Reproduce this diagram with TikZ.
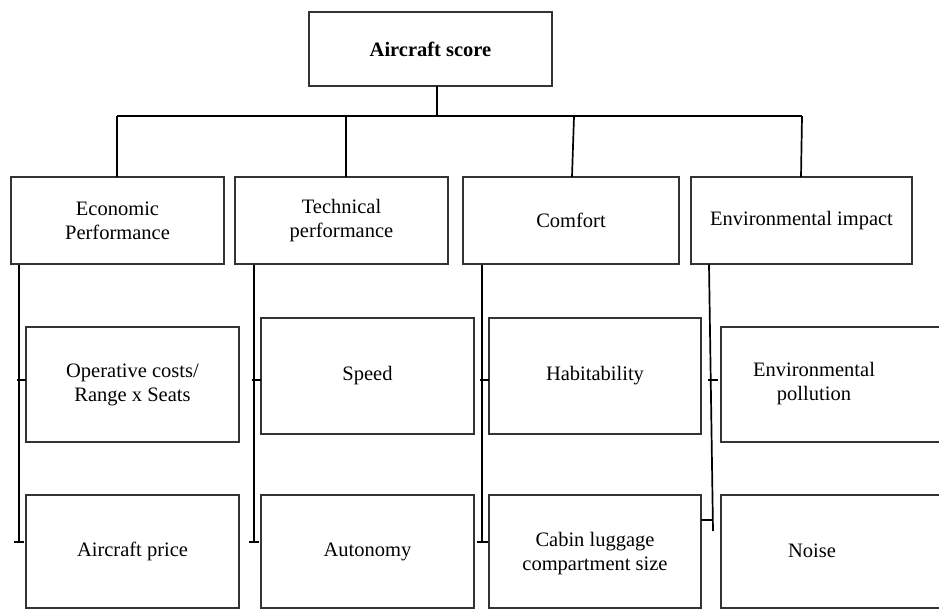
\documentclass[tikz,border=0pt]{standalone}
\usepackage{fontspec}
\setmainfont{Liberation Serif}
\begin{document}
\begin{tikzpicture}[x=1pt,y=-1pt,
  box/.style={draw=black!80,line width=1.1pt,rectangle,outer sep=0pt,inner sep=2pt,align=center,
    font=\fontsize{20.5}{24}\selectfont},
  conn/.style={draw=black,line width=1.7pt},
  tick/.style={draw=black,line width=1.4pt}]
\useasboundingbox (0,0) rectangle (939,610);
\clip (0,0) rectangle (939,610);
% top
\node[box,minimum width=243pt,minimum height=74pt,font=\fontsize{20.5}{24}\selectfont\bfseries] (top) at (430.5,49) {Aircraft score};
% level 1
\node[box,minimum width=213pt,minimum height=87pt] (eco) at (117.5,220.5) {Economic\\Performance};
\node[box,minimum width=213pt,minimum height=87pt] (tech) at (341.5,220.5) {Technical\\performance};
\node[box,minimum width=216pt,minimum height=87pt] (comf) at (571,220.5) {Comfort};
\node[box,minimum width=221pt,minimum height=87pt] (env) at (801.5,220.5) {Environmental impact};
% level 2
\node[box,minimum width=213pt,minimum height=115pt] (op) at (132.5,384.5) {Operative costs/\\Range x Seats};
\node[box,minimum width=213pt,minimum height=116pt] (speed) at (367.5,376) {Speed};
\node[box,minimum width=212pt,minimum height=116pt] (hab) at (595,376) {Habitability};
\node[box,minimum width=224pt,minimum height=115pt,text width=190pt,xshift=0pt] (pol) at (833,384.5) {};
\node[font=\fontsize{20.5}{24}\selectfont,align=center] (poltxt) at (814,384) {Environmental\\pollution};
\node[box,minimum width=213pt,minimum height=113pt] (price) at (132.5,551.5) {Aircraft price};
\node[box,minimum width=213pt,minimum height=113pt] (auton) at (367.5,551.5) {Autonomy};
\node[box,minimum width=212pt,minimum height=113pt,text depth=0pt] (cabin) at (595,551.5) {Cabin luggage\\compartment size};
\node[box,minimum width=224pt,minimum height=113pt] (noise) at (833,551.5) {};
\node[font=\fontsize{20.5}{24}\selectfont] (noisetxt) at (812,551) {Noise};
% bar coordinates
\coordinate (b0) at (437,116);
\coordinate (b1) at (117,116);
\coordinate (b2) at (346,116);
\coordinate (b3) at (574,116);
\coordinate (b4) at (802,116);
\draw[conn] (top.south -| b0) -- (b0);
\draw[conn] (b1) -- (b4);
\draw[conn] (b1) -- (eco.north -| b1);
\draw[conn] (b2) -- (tech.north -| b2);
\draw[conn] (b3) -- (572,177);
\draw[conn] (b4) -- (801,177);
% column lines
\coordinate (e0) at (19,264.5); \coordinate (e1) at (19,542);
\coordinate (t0) at (254,264.5); \coordinate (t1) at (254,542);
\coordinate (c0) at (482,264.5); \coordinate (c1) at (482,542);
\coordinate (v0) at (709,264.5); \coordinate (v1) at (713,531);
\draw[conn] (e0) -- (e1);
\draw[conn] (t0) -- (t1);
\draw[conn] (c0) -- (c1);
\draw[conn] (v0) -- (v1);
% ticks
\draw[tick] (17,380) -- (op.west |- 0,380);
\draw[tick] (252,380) -- (speed.west |- 0,380);
\draw[tick] (480,380) -- (hab.west |- 0,380);
\draw[tick] (708,380) -- (718,380);
\draw[tick] (14,542) -- (24,542);
\draw[tick] (249,542) -- (259,542);
\draw[tick] (477,542) -- (488,542);
\draw[tick] (cabin.east |- 0,520) -- (713,520);
\end{tikzpicture}
\end{document}
